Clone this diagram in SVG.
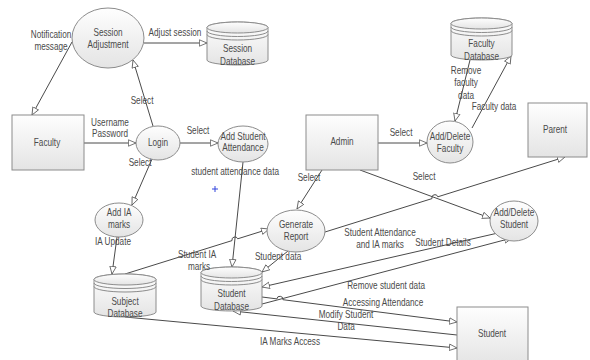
<svg xmlns="http://www.w3.org/2000/svg" width="590" height="360" viewBox="0 0 590 360">
<defs>
<linearGradient id="g" x1="0" y1="0" x2="0" y2="1">
<stop offset="0" stop-color="#fefefe"/>
<stop offset="1" stop-color="#e4e4e4"/>
</linearGradient>
<marker id="a" viewBox="0 0 10 10" refX="10" refY="5" markerWidth="8" markerHeight="8" orient="auto" markerUnits="userSpaceOnUse">
<path d="M0.5,1 L10,5 L0.5,9 Z" fill="#fff" stroke="#555" stroke-width="1"/>
</marker>
<style>
.s{fill:url(#g);stroke:#8c8c8c;stroke-width:1}
.l{fill:none;stroke:#4a4a4a;stroke-width:1;marker-end:url(#a)}
.d{fill:none;stroke:#8c8c8c;stroke-width:1}
text{font-family:"Liberation Sans",Arial,sans-serif;font-size:10px;fill:#4a4a4a;text-anchor:middle;transform-box:fill-box;transform-origin:center;transform:scaleX(0.82)}
</style>
</defs>
<rect width="590" height="360" fill="#fff"/>

<g id="connectors">
<path class="l" d="M72,42 L32,115"/>
<path class="l" d="M144,43 L207,43"/>
<path class="l" d="M84,143 L136,143"/>
<path class="l" d="M153,126 L133,60"/>
<path class="l" d="M180,143 L218,143"/>
<path class="l" d="M152,159 L132,205"/>
<path class="l" d="M243,162 L232,267"/>
<path class="l" d="M117,237 L112,274"/>
<path class="l" d="M125,274 L232,240.6 A3,3 0 0 1 237.7,238.8 L269,229"/>
<path class="l" d="M288,251 L262,272"/>
<path class="l" d="M378,143 L427,143"/>
<path class="l" d="M470,60 L455,121"/>
<path class="l" d="M472,128 L511,56"/>
<path class="l" d="M322,170 L297,209"/>
<path class="l" d="M360,170 L490,218"/>
<path class="l" d="M325,232 L432,198.6 A3,3 0 0 1 437.8,196.8 L565,157"/>
<path class="l" d="M498,233 L262,287"/>
<path class="l" d="M262,304 L512,238"/>
<path class="l" d="M262,297 L276.9,298.9 A3,3 0 0 1 282.9,299.7 L457,322"/>
<path class="l" d="M457,335 L233,311"/>
<path class="l" d="M125,317 L457,348"/>
</g>

<g id="faculty">
<rect class="s" x="12" y="115" width="72" height="55"/>
<text x="47" y="146.5">Faculty</text>
</g>
<g id="session-adjustment">
<ellipse class="s" cx="108" cy="38" rx="36" ry="30"/>
<text x="108" y="36.5">Session</text>
<text x="108" y="48.5">Adjustment</text>
</g>
<g id="session-database">
<path class="s" d="M207,27.5 L207,60 A30.5,5 0 0 0 268,60 L268,27.5 A30.5,5.5 0 0 0 207,27.5 Z"/>
<ellipse class="s" cx="237.5" cy="27.5" rx="30.5" ry="5.5"/>
<path class="d" d="M207,31 A30.5,5.5 0 0 0 268,31 M207,34.5 A30.5,5.5 0 0 0 268,34.5"/>
<text x="237.5" y="52.5">Session</text>
<text x="237.5" y="65.5">Database</text>
</g>
<g id="login">
<ellipse class="s" cx="158" cy="143" rx="22" ry="17"/>
<text x="158" y="146.5">Login</text>
</g>
<g id="add-student-attendance">
<ellipse class="s" cx="243" cy="144" rx="25" ry="18"/>
<text x="243" y="140.5">Add Student</text>
<text x="243" y="151.5">Attendance</text>
</g>
<g id="add-ia-marks">
<ellipse class="s" cx="119" cy="220" rx="24" ry="17"/>
<text x="119" y="216.5">Add IA</text>
<text x="119" y="228.5">marks</text>
</g>
<g id="subject-database">
<path class="s" d="M94,279.5 L94,312 A31,5 0 0 0 156,312 L156,279.5 A31,5.5 0 0 0 94,279.5 Z"/>
<ellipse class="s" cx="125" cy="279.5" rx="31" ry="5.5"/>
<path class="d" d="M94,283 A31,5.5 0 0 0 156,283 M94,286.5 A31,5.5 0 0 0 156,286.5"/>
<text x="125" y="305.5">Subject</text>
<text x="125" y="317.5">Database</text>
</g>
<g id="student-database">
<path class="s" d="M201,272.5 L201,306 A30.5,5 0 0 0 262,306 L262,272.5 A30.5,5.5 0 0 0 201,272.5 Z"/>
<ellipse class="s" cx="231.5" cy="272.5" rx="30.5" ry="5.5"/>
<path class="d" d="M201,276 A30.5,5.5 0 0 0 262,276 M201,279.5 A30.5,5.5 0 0 0 262,279.5"/>
<text x="231.5" y="297.5">Student</text>
<text x="231.5" y="310.5">Database</text>
</g>
<g id="generate-report">
<ellipse class="s" cx="296" cy="231" rx="29" ry="21"/>
<text x="296" y="228.5">Generate</text>
<text x="296" y="240.5">Report</text>
</g>
<g id="admin">
<rect class="s" x="306" y="115" width="72" height="55"/>
<text x="342" y="145.5">Admin</text>
</g>
<g id="add-delete-faculty">
<ellipse class="s" cx="450" cy="142" rx="23" ry="21"/>
<text x="450" y="140.5">Add/Delete</text>
<text x="450" y="152.5">Faculty</text>
</g>
<g id="faculty-database">
<path class="s" d="M451,23.5 L451,55 A30.5,5 0 0 0 512,55 L512,23.5 A30.5,5.5 0 0 0 451,23.5 Z"/>
<ellipse class="s" cx="481.5" cy="23.5" rx="30.5" ry="5.5"/>
<path class="d" d="M451,27 A30.5,5.5 0 0 0 512,27 M451,30.5 A30.5,5.5 0 0 0 512,30.5"/>
<text x="481.5" y="47.5">Faculty</text>
<text x="481.5" y="60.5">Database</text>
</g>
<g id="parent">
<rect class="s" x="528" y="103" width="59" height="54"/>
<text x="555" y="133.5">Parent</text>
</g>
<g id="add-delete-student">
<ellipse class="s" cx="514" cy="221" rx="24" ry="20"/>
<text x="514" y="216.5">Add/Delete</text>
<text x="514" y="228.5">Student</text>
</g>
<g id="student">
<rect class="s" x="457" y="307" width="71" height="58"/>
<text x="492" y="337.5">Student</text>
</g>

<g id="labels">
<text x="51" y="38.5">Notification</text>
<text x="51" y="50.5">message</text>
<text x="175" y="36.5">Adjust session</text>
<text x="110" y="126.5">Username</text>
<text x="110" y="137.5">Password</text>
<text x="142" y="104.5">Select</text>
<text x="198" y="134.5">Select</text>
<text x="140" y="166.5">Select</text>
<text x="235" y="175.5">student attendance data</text>
<text x="113" y="245.5">IA Update</text>
<text x="197" y="258.5">Student IA</text>
<text x="199" y="270.5">marks</text>
<text x="278" y="260.5">Student data</text>
<text x="290" y="345.5">IA Marks Access</text>
<text x="401" y="136.5">Select</text>
<text x="466" y="74.5">Remove</text>
<text x="466" y="86.5">faculty</text>
<text x="466" y="99.5">data</text>
<text x="494" y="110.5">Faculty data</text>
<text x="309" y="181.5">Select</text>
<text x="424" y="180.5">Select</text>
<text x="380" y="236.5">Student Attendance</text>
<text x="380" y="248.5">and IA marks</text>
<text x="443" y="246.5">Student Details</text>
<text x="386" y="289.5">Remove student data</text>
<text x="383" y="306.5">Accessing Attendance</text>
<text x="346" y="318.5">Modify Student</text>
<text x="346" y="330.5">Data</text>
</g>
<path d="M212,189 H218 M215,186 V192" stroke="#3344dd" stroke-width="1" fill="none"/>
</svg>
